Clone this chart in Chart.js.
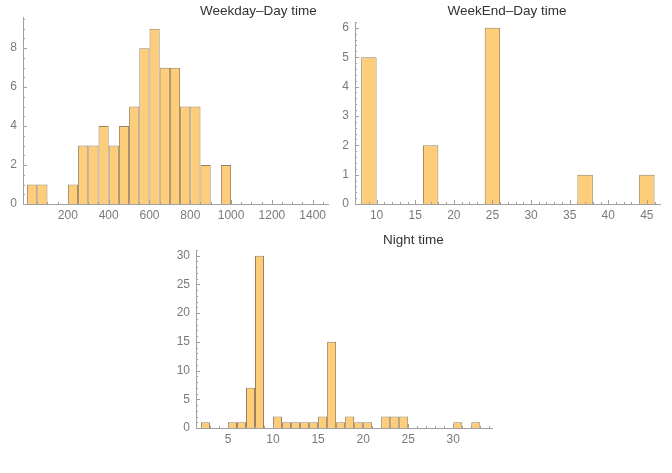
<!DOCTYPE html>
<html>
<head>
<meta charset="utf-8">
<script src="https://cdn.jsdelivr.net/npm/chart.js@4.4.0/dist/chart.umd.min.js"></script>
<style>
    html, body { margin: 0; padding: 0; background: #fff; }
    #wrap { position: relative; width: 672px; height: 473px; overflow: hidden; }
    #wrap canvas { position: absolute; left: 0; top: 0; }
    .ttl { position: absolute; font: 13.5px "Liberation Sans", Arial, sans-serif; line-height: 16px; color: #333; white-space: nowrap; }
</style>
</head>
<body>
<div id="wrap">
    <canvas id="weekday" width="672" height="473"></canvas>
    <canvas id="weekend" width="672" height="473"></canvas>
    <canvas id="night" width="672" height="473"></canvas>
    <div class="ttl" style="left:200px; top:3px;">Weekday–Day time</div>
    <div class="ttl" style="left:507px; top:3px; transform:translateX(-50%);">WeekEnd–Day time</div>
    <div class="ttl" style="left:383px; top:232px;">Night time</div>
</div>
<script>
// Weekday-Day time: bins of 50 starting at 0
const weekdayStart = 0;
const weekdayBin = 50;
const weekdayCounts = [1, 1, 0, 0, 1, 3, 3, 4, 3, 4, 5, 8, 9, 7, 7, 5, 5, 2, 0, 2];
const weekdayXTicks = [200, 400, 600, 800, 1000, 1200, 1400];
const weekdayYTicks = [0, 2, 4, 6, 8];

// WeekEnd-Day time: bins of 2 starting at 8
const weekendStart = 8;
const weekendBin = 2;
const weekendCounts = [5, 0, 0, 0, 2, 0, 0, 0, 6, 0, 0, 0, 0, 0, 1, 0, 0, 0, 1];
const weekendXTicks = [10, 15, 20, 25, 30, 35, 40, 45];
const weekendYTicks = [0, 1, 2, 3, 4, 5, 6];

// Night time: bins of 1 starting at 2
const nightStart = 2;
const nightBin = 1;
const nightCounts = [1, 0, 0, 1, 1, 7, 30, 0, 2, 1, 1, 1, 1, 2, 15, 1, 2, 1, 1, 0, 2, 2, 2, 0, 0, 0, 0, 0, 1, 0, 1];
const nightXTicks = [5, 10, 15, 20, 25, 30];
const nightYTicks = [0, 5, 10, 15, 20, 25, 30];

const FILL = "rgb(253,205,122)";
const EDGE = "rgba(128,96,50,0.8)";
const AXIS = "#a0a0a0";
const LABEL = "#7a7a7a";
const FONT = { family: "'Liberation Sans', Arial, sans-serif", size: 12 };

// Mathematica style ticks: drawn inward, with minor ticks
const inTicks = {
    id: "inTicks",
    afterDraw(chart, args, opts) {
        const { ctx, chartArea: a, scales: { x, y } } = chart;
        ctx.save();
        ctx.strokeStyle = AXIS;
        ctx.lineWidth = 1;
        const mark = (x0, y0, x1, y1) => {
            ctx.beginPath();
            ctx.moveTo(x0, y0);
            ctx.lineTo(x1, y1);
            ctx.stroke();
        };
        const isMajor = (list, v) => list.some(m => Math.abs(m - v) < 1e-6);

        const xMaj = x.ticks.map(t => t.value);
        for (let k = Math.ceil(x.min / opts.xMinor); k * opts.xMinor <= x.max; k++) {
            const v = k * opts.xMinor;
            const px = Math.round(x.getPixelForValue(v)) + 0.5;
            mark(px, a.bottom, px, a.bottom - (isMajor(xMaj, v) ? 4 : 2));
        }
        const yMaj = y.ticks.map(t => t.value);
        for (let k = Math.ceil(y.min / opts.yMinor); k * opts.yMinor <= y.max + 1e-9; k++) {
            const v = k * opts.yMinor;
            const py = Math.round(y.getPixelForValue(v)) + 0.5;
            mark(a.left, py, a.left + (isMajor(yMaj, v) ? 4 : 2), py);
        }
        ctx.restore();
    }
};

function makeHist(id, start, bin, counts, xTicks, yTicks, range, box, minor) {
    const points = counts.map((c, i) => ({ x: start + (i + 0.5) * bin, y: c }));
    const yAxisW = 40, xAxisH = 30;

    new Chart(document.getElementById(id), {
        type: "bar",
        data: {
            datasets: [{
                data: points,
                backgroundColor: FILL,
                borderColor: EDGE,
                borderWidth: { top: 1, left: 1, right: 1, bottom: 0 },
                borderSkipped: false,
                inflateAmount: 0,
                categoryPercentage: 1,
                barPercentage: 1
            }]
        },
        options: {
            responsive: false,
            animation: false,
            layout: {
                padding: {
                    left: box.left - yAxisW,
                    right: 672 - box.right,
                    top: box.top,
                    bottom: 473 - box.bottom - xAxisH
                }
            },
            plugins: {
                legend: { display: false },
                tooltip: { enabled: false },
                inTicks: minor
            },
            scales: {
                x: {
                    type: "linear",
                    offset: false,
                    min: range.xMin,
                    max: range.xMax,
                    grid: { display: false, drawTicks: false },
                    border: { display: true, color: AXIS, width: 1 },
                    afterBuildTicks: s => { s.ticks = xTicks.map(v => ({ value: v })); },
                    afterFit: s => { s.height = xAxisH; },
                    ticks: { color: LABEL, font: FONT, padding: 4, maxRotation: 0, autoSkip: false, callback: v => String(v) }
                },
                y: {
                    min: 0,
                    max: range.yMax,
                    grid: { display: false, drawTicks: false },
                    border: { display: true, color: AXIS, width: 1 },
                    afterBuildTicks: s => { s.ticks = yTicks.map(v => ({ value: v })); },
                    afterFit: s => { s.width = yAxisW; },
                    ticks: { color: LABEL, font: FONT, padding: 6, autoSkip: false, callback: v => String(v) }
                }
            }
        },
        plugins: [inTicks]
    });
}

makeHist("weekday", weekdayStart, weekdayBin, weekdayCounts, weekdayXTicks, weekdayYTicks,
    { xMin: -20, xMax: 1475, yMax: 9.6 },
    { left: 23, right: 328, top: 17, bottom: 204 },
    { xMinor: 50, yMinor: 0.5 });

makeHist("weekend", weekendStart, weekendBin, weekendCounts, weekendXTicks, weekendYTicks,
    { xMin: 7.2, xMax: 46.7, yMax: 6.2 },
    { left: 355, right: 660, top: 22, bottom: 204 },
    { xMinor: 1, yMinor: 0.2 });

makeHist("night", nightStart, nightBin, nightCounts, nightXTicks, nightYTicks,
    { xMin: 1.45, xMax: 34.3, yMax: 31 },
    { left: 196, right: 492, top: 250, bottom: 428 },
    { xMinor: 1, yMinor: 1 });
</script>
</body>
</html>
